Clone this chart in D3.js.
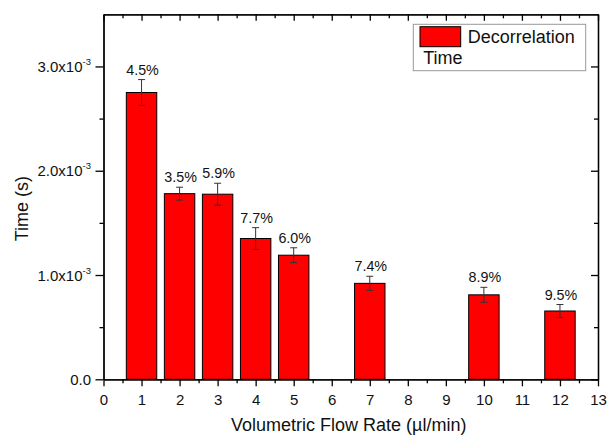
<!DOCTYPE html>
<html>
<head>
<meta charset="utf-8">
<script src="https://cdn.jsdelivr.net/npm/d3@7"></script>
<style>
  body { margin: 0; background: #fff; }
  svg { display: block; font-family: "Liberation Sans", Arial, sans-serif; }
</style>
</head>
<body>
<div id="chart"></div>
<script>
// data
let flowRates = [1, 2, 3, 4, 5, 7, 10, 12];
let decorrTimes = [2.75e-3, 1.78e-3, 1.775e-3, 1.35e-3, 1.19e-3, 0.92e-3, 0.81e-3, 0.655e-3];
let errValues = [0.124e-3, 0.062e-3, 0.105e-3, 0.104e-3, 0.071e-3, 0.068e-3, 0.072e-3, 0.062e-3];
let pctLabels = ['4.5%', '3.5%', '5.9%', '7.7%', '6.0%', '7.4%', '8.9%', '9.5%'];

let xTicks = [0, 1, 2, 3, 4, 5, 6, 7, 8, 9, 10, 11, 12, 13];
let xMinorTicks = [0.5, 1.5, 2.5, 3.5, 4.5, 5.5, 6.5, 7.5, 8.5, 9.5, 10.5, 11.5, 12.5];
let yTicks = [0, 1e-3, 2e-3, 3e-3];
let yTickMantissa = ['0.0', '1.0x10', '2.0x10', '3.0x10'];
let yMinorTicks = [0.5e-3, 1.5e-3, 2.5e-3];

let data = flowRates.map(function(f, i) {
  return { rate: f, time: decorrTimes[i], err: errValues[i], label: pctLabels[i] };
});

let margin = { top: 14.3, right: 9, bottom: 57.7, left: 103.5 };
let width = 607 - margin.left - margin.right;
let height = 437 - margin.top - margin.bottom;

let svg = d3.select('#chart')
  .append('svg')
  .attr('width', 607)
  .attr('height', 437);

let g = svg.append('g')
  .attr('transform', 'translate(' + margin.left + ',' + margin.top + ')');

let x = d3.scaleLinear().domain([0, 13]).range([0, width]);
let y = d3.scaleLinear().domain([0, 3.5e-3]).range([height, 0]);

let barW = x(0.8) - x(0);

// bars
g.selectAll('rect.bar')
  .data(data)
  .enter()
  .append('rect')
  .attr('class', 'bar')
  .attr('x', d => x(d.rate) - barW / 2)
  .attr('y', d => y(d.time))
  .attr('width', barW)
  .attr('height', d => height - y(d.time))
  .attr('fill', '#ff0000')
  .attr('stroke', '#000')
  .attr('stroke-width', 1);

// error bars
let eb = g.selectAll('g.err')
  .data(data)
  .enter()
  .append('g')
  .attr('class', 'err')
  .attr('stroke', '#333')
  .attr('stroke-width', 1);

eb.append('line')
  .attr('x1', d => x(d.rate)).attr('x2', d => x(d.rate))
  .attr('y1', d => y(d.time + d.err)).attr('y2', d => y(d.time - d.err));
eb.append('line')
  .attr('x1', d => x(d.rate) - 3.5).attr('x2', d => x(d.rate) + 3.5)
  .attr('y1', d => y(d.time + d.err)).attr('y2', d => y(d.time + d.err));
eb.append('line')
  .attr('x1', d => x(d.rate) - 3.5).attr('x2', d => x(d.rate) + 3.5)
  .attr('y1', d => y(d.time - d.err)).attr('y2', d => y(d.time - d.err));

// percent labels
g.selectAll('text.pct')
  .data(data)
  .enter()
  .append('text')
  .attr('class', 'pct')
  .attr('x', d => x(d.rate) + 1)
  .attr('y', d => y(d.time + d.err) - 5)
  .attr('text-anchor', 'middle')
  .attr('font-size', '14.3px')
  .attr('fill', '#111')
  .text(d => d.label);

function styleAxis(sel) {
  sel.select('.domain').attr('stroke', '#000').attr('stroke-width', 1.3);
  sel.selectAll('.tick line').attr('stroke', '#000').attr('stroke-width', 1.3);
}

// bottom axis
let xAxis = g.append('g')
  .attr('transform', 'translate(0,' + height + ')')
  .call(d3.axisBottom(x).tickValues(xTicks).tickSize(7).tickSizeOuter(0).tickFormat(d3.format('d')));
xAxis.selectAll('text')
  .attr('y', 15).attr('dy', '0.71em')
  .attr('font-size', '15px').attr('fill', '#111');
styleAxis(xAxis);
let xMinor = g.append('g')
  .attr('transform', 'translate(0,' + height + ')')
  .call(d3.axisBottom(x).tickValues(xMinorTicks).tickSize(4).tickSizeOuter(0).tickFormat(''));
styleAxis(xMinor);

// top axis, ticks inside
let xTop = g.append('g')
  .call(d3.axisTop(x).tickValues(xTicks).tickSize(-6.5).tickSizeOuter(0).tickFormat(''));
styleAxis(xTop);
let xTopMinor = g.append('g')
  .call(d3.axisTop(x).tickValues(xMinorTicks).tickSize(-4).tickSizeOuter(0).tickFormat(''));
styleAxis(xTopMinor);

// left axis
let yAxis = g.append('g')
  .call(d3.axisLeft(y).tickValues(yTicks).tickSize(8).tickSizeOuter(0).tickFormat(''));
styleAxis(yAxis);
yAxis.selectAll('.tick').each(function(d, i) {
  let t = d3.select(this).append('text')
    .attr('x', -12.5)
    .attr('dy', '0.35em')
    .attr('text-anchor', 'end')
    .attr('font-size', '15px')
    .attr('fill', '#111');
  t.append('tspan').text(yTickMantissa[i]);
  if (i > 0) {
    t.append('tspan')
      .attr('font-size', '9.5px')
      .attr('dy', '-0.75em')
      .text('-3');
  }
});
let yMinor = g.append('g')
  .call(d3.axisLeft(y).tickValues(yMinorTicks).tickSize(4).tickSizeOuter(0).tickFormat(''));
styleAxis(yMinor);

// right axis, ticks inside
let yRight = g.append('g')
  .attr('transform', 'translate(' + width + ',0)')
  .call(d3.axisRight(y).tickValues(yTicks).tickSize(-7).tickSizeOuter(0).tickFormat(''));
styleAxis(yRight);
let yRightMinor = g.append('g')
  .attr('transform', 'translate(' + width + ',0)')
  .call(d3.axisRight(y).tickValues(yMinorTicks).tickSize(-4).tickSizeOuter(0).tickFormat(''));
styleAxis(yRightMinor);

// axis titles
svg.append('text')
  .attr('x', margin.left + width / 2 - 2)
  .attr('y', 431)
  .attr('text-anchor', 'middle')
  .attr('font-size', '18px')
  .attr('fill', '#111')
  .text('Volumetric Flow Rate (\u00b5l/min)');

svg.append('text')
  .attr('transform', 'translate(28,208.7) rotate(-90)')
  .attr('text-anchor', 'middle')
  .attr('font-size', '18px')
  .attr('fill', '#111')
  .text('Time (s)');

// legend
let legend = svg.append('g');
legend.append('rect')
  .attr('x', 413.3).attr('y', 24.3)
  .attr('width', 172.4).attr('height', 46.4)
  .attr('fill', '#fff')
  .attr('stroke', '#999')
  .attr('stroke-width', 1);
legend.append('rect')
  .attr('x', 420).attr('y', 26.7)
  .attr('width', 40.7).attr('height', 20)
  .attr('fill', '#ff0000')
  .attr('stroke', '#000');
legend.append('text')
  .attr('x', 467.7).attr('y', 42.7)
  .attr('font-size', '18px').attr('fill', '#111')
  .text('Decorrelation');
legend.append('text')
  .attr('x', 423.3).attr('y', 64.3)
  .attr('font-size', '18px').attr('fill', '#111')
  .text('Time');
</script>
</body>
</html>
